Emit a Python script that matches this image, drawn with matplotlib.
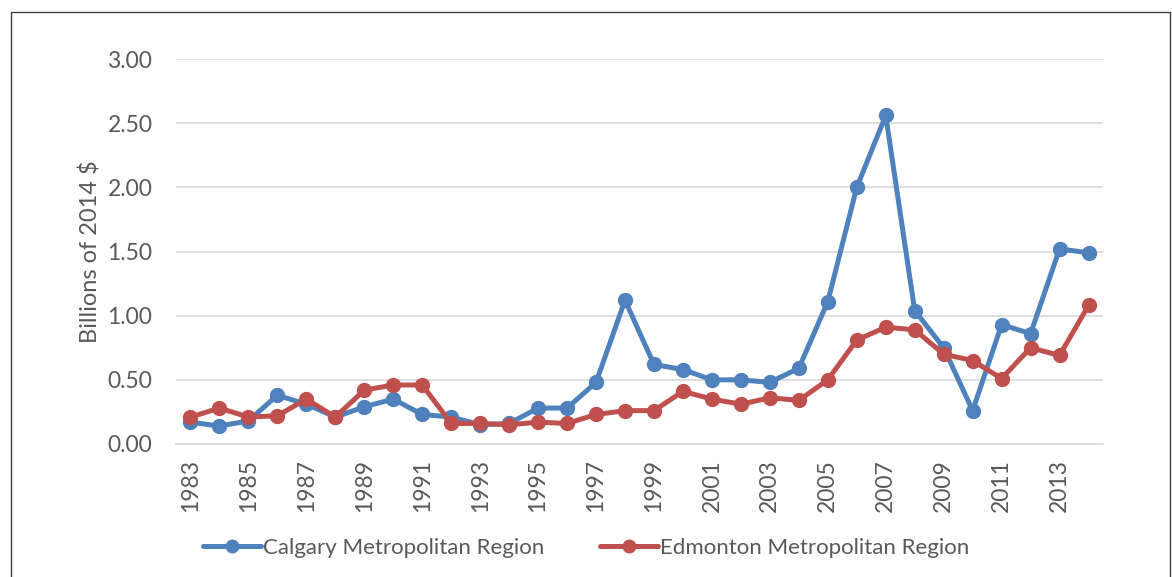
import matplotlib
matplotlib.use("Agg")
import matplotlib.pyplot as plt
from matplotlib.patches import Rectangle

years = list(range(1983, 2015))
calgary = [0.17, 0.14, 0.18, 0.38, 0.31, 0.21, 0.29, 0.35, 0.23, 0.21, 0.15,
           0.16, 0.28, 0.28, 0.48, 1.12, 0.62, 0.58, 0.50, 0.50, 0.48, 0.59,
           1.11, 2.00, 2.56, 1.04, 0.75, 0.26, 0.93, 0.86, 1.52, 1.49]
edmonton = [0.21, 0.28, 0.21, 0.22, 0.35, 0.21, 0.42, 0.46, 0.46, 0.16, 0.16,
            0.15, 0.17, 0.16, 0.23, 0.26, 0.26, 0.41, 0.35, 0.31, 0.36, 0.34,
            0.50, 0.81, 0.91, 0.89, 0.70, 0.65, 0.51, 0.75, 0.69, 1.08]
y_ticks = [0.0, 0.5, 1.0, 1.5, 2.0, 2.5, 3.0]
series_names = ["Calgary Metropolitan Region", "Edmonton Metropolitan Region"]
y_label = "Billions of 2014 $"

plt.rcParams['font.family'] = ['Lato', 'DejaVu Sans']
txt = '#595959'

fig = plt.figure(figsize=(11.72, 5.77), dpi=100)
fig.patches.append(Rectangle((11/1172, -0.05), (1170-11)/1172, 1 - 12/577 + 0.05,
                             transform=fig.transFigure, fill=False,
                             edgecolor='#404040', linewidth=1.0))
ax = fig.add_axes([176/1172, 1-444/577, (1103-176)/1172, (444-59)/577])

x = list(range(len(years)))
ax.plot(x, calgary, color='#4F81BD', lw=3.6, marker='o', ms=10,
        label=series_names[0], solid_capstyle='round', solid_joinstyle='round', zorder=3)
ax.plot(x, edmonton, color='#C0504D', lw=3.6, marker='o', ms=10,
        label=series_names[1], solid_capstyle='round', solid_joinstyle='round', zorder=4)

ax.set_xlim(-0.5, len(years) - 0.5)
ax.set_ylim(0, 3.0)
ax.set_yticks(y_ticks)
ax.set_yticklabels([f"{v:.2f}" for v in y_ticks])
ax.set_xticks(x[::2])
ax.set_xticklabels([str(y) for y in years[::2]], rotation=90)
ax.grid(axis='y', color='#D9D9D9', lw=1.2, zorder=0)
ax.set_axisbelow(True)
for s in ['top', 'right', 'left']:
    ax.spines[s].set_visible(False)
ax.spines['bottom'].set_color('#D9D9D9')
ax.spines['bottom'].set_linewidth(1.2)
ax.tick_params(axis='both', length=0, labelsize=16.5, labelcolor=txt)
ax.tick_params(axis='y', pad=17)
ax.tick_params(axis='x', pad=11)
ax.set_ylabel(y_label, fontsize=17, color=txt, labelpad=4)

leg = fig.legend(loc='center', bbox_to_anchor=(0.5, 1-548/577), ncol=2, frameon=False,
                 fontsize=16, labelcolor=txt, handlelength=2.6, handletextpad=0.1,
                 columnspacing=2.5, markerscale=0.9)
fig.savefig("out.png", dpi=100)
